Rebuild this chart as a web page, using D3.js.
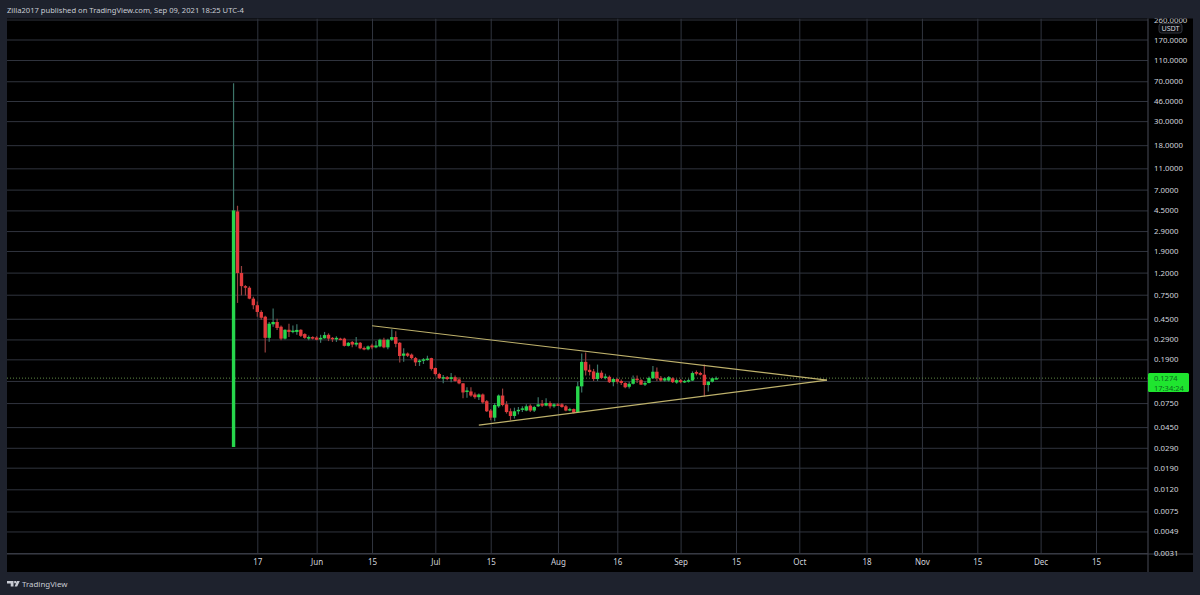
<!DOCTYPE html>
<html>
<head>
<meta charset="utf-8">
<style>
  html, body { margin: 0; padding: 0; background: #1e222d; }
  svg { display: block; }
  text { font-family: "Noto Sans", "DejaVu Sans", sans-serif; }
  .axis path, .axis line { display: none; }
  .grid path { display: none; }
  .grid line { stroke: #30343e; stroke-width: 1; }
</style>
</head>
<body>
<div id="page"></div>
<script src="https://cdn.jsdelivr.net/npm/d3@7"></script>
<script>
(function() {

  "use strict";

  var firstDay = "2021-05-11";

  var opens = [
    .0295, 4.4, 1.19, .90, .87, .69, .60, .52, .47, .30,
    .40, .42, .38, .295, .356, .34, .34, .356, .325, .295,
    .305, .302, .29, .297, .32, .30, .29, .295, .295, .253,
    .275, .26, .27, .242, .235, .255, .245, .25, .288, .245,
    .288, .305, .27, .205, .215, .21, .195, .18, .185, .187,
    .195, .158, .139, .127, .13, .125, .13, .124, .114, .095,
    .096, .09, .085, .09, .078, .064, .055, .07, .088, .073,
    .063, .057, .063, .065, .064, .071, .064, .07, .074, .071,
    .075, .07, .073, .073, .07, .065, .066, .062, .107, .18,
    .152, .147, .125, .143, .128, .131, .117, .125, .12, .115,
    .106, .113, .126, .122, .111, .115, .127, .146, .128, .121,
    .121, .127, .116, .122, .118, .118, .121, .145, .142, .137,
    .11, .118, .127
  ];

  var closes = [
    4.5, 1.19, .90, .87, .69, .60, .52, .46, .30, .405,
    .42, .37, .295, .356, .34, .35, .355, .313, .30, .305,
    .295, .288, .30, .318, .295, .295, .30, .29, .253, .27,
    .26, .27, .24, .235, .25, .245, .255, .288, .245, .288,
    .305, .264, .204, .215, .205, .195, .178, .185, .19, .193,
    .155, .139, .127, .13, .125, .13, .12, .114, .094, .098,
    .088, .085, .09, .076, .063, .055, .072, .088, .072, .062,
    .057, .063, .065, .067, .07, .064, .069, .073, .071, .075,
    .07, .073, .072, .069, .064, .066, .061, .107, .18, .15,
    .145, .125, .143, .128, .132, .117, .125, .118, .115, .105,
    .113, .125, .122, .111, .115, .128, .146, .127, .121, .127,
    .13, .117, .122, .117, .12, .122, .142, .14, .137, .11,
    .118, .127, .1274
  ];

  var highs = [
    67, 4.96, 1.38, .92, .90, .72, .65, .54, .48, .42,
    .56, .45, .39, .36, .405, .39, .40, .36, .33, .315,
    .31, .31, .32, .34, .33, .305, .31, .30, .30, .275,
    .28, .305, .275, .25, .255, .265, .28, .295, .30, .295,
    .36, .345, .275, .24, .22, .215, .20, .19, .195, .205,
    .197, .16, .143, .136, .133, .142, .135, .13, .115, .105,
    .105, .094, .092, .092, .08, .066, .075, .09, .102, .078,
    .067, .068, .069, .07, .073, .073, .071, .085, .08, .083,
    .078, .075, .075, .075, .072, .068, .067, .118, .215, .22,
    .17, .155, .17, .15, .14, .135, .128, .127, .124, .117,
    .118, .135, .135, .125, .12, .132, .165, .16, .133, .13,
    .133, .13, .126, .125, .123, .126, .147, .15, .146, .17,
    .12, .129, .132
  ];

  var lows = [
    .0295, .63, .74, .74, .68, .55, .47, .44, .22, .276,
    .38, .355, .285, .29, .305, .33, .32, .305, .295, .285,
    .29, .285, .27, .295, .28, .275, .275, .285, .25, .25,
    .245, .25, .235, .23, .23, .235, .24, .245, .24, .235,
    .28, .245, .178, .18, .20, .19, .165, .165, .172, .185,
    .15, .135, .125, .114, .122, .117, .118, .112, .083, .084,
    .086, .082, .08, .074, .062, .052, .051, .068, .07, .06,
    .052, .054, .059, .062, .063, .062, .062, .069, .069, .07,
    .067, .068, .071, .068, .063, .063, .06, .061, .094, .135,
    .135, .12, .12, .125, .124, .115, .107, .113, .11, .103,
    .102, .111, .115, .11, .108, .114, .125, .12, .118, .118,
    .118, .115, .113, .114, .115, .116, .12, .135, .135, .086,
    .096, .116, .125
  ];

  var priceTicks = [260, 170, 110, 70, 46, 30, 18, 11, 7, 4.5, 2.9, 1.9, 1.2, .75, .45, .29, .19, .12, .075, .045, .029, .019, .012, .0075, .0049, .0031];
  var hiddenPriceTick = .12;

  var dateTicks = ["2021-05-17", "2021-06-01", "2021-06-15", "2021-07-01", "2021-07-15", "2021-08-01", "2021-08-16", "2021-09-01", "2021-09-15", "2021-10-01", "2021-10-18", "2021-11-01", "2021-11-15", "2021-12-01", "2021-12-15"];
  var dateLabels = ["17", "Jun", "15", "Jul", "15", "Aug", "16", "Sep", "15", "Oct", "18", "Nov", "15", "Dec", "15"];

  var upperTrend = [["2021-06-15", .388], ["2021-10-08", .122]];
  var lowerTrend = [["2021-07-12", .047], ["2021-10-08", .122]];

  var lastPrice = .1274;
  var countdown = "17:34:24";
  var quote = "USDT";
  var header = "Zilla2017 published on TradingView.com, Sep 09, 2021 18:25 UTC-4";
  var brand = "TradingView";

  /* * * * * * * * * * * * * * * * * * * */

  var left = 7, right = 1193, top = 18.5, bottom = 572,
    axisX = 1148, axisY = 554;

  var parse = d3.utcParse( "%Y-%m-%d" );

  var x = d3.scaleUtc()
    .domain( [ parse( dateTicks[0] ), parse( dateTicks[ dateTicks.length - 1 ] ) ] )
    .range( [ 257.3, 1096 ] );

  var y = d3.scaleLog()
    .domain( [ 170, .0031 ] )
    .range( [ 39.5, 553 ] );

  var svg = d3.select( "#page" ).append( "svg" )
    .attr( "width", 1200 )
    .attr( "height", 595 );

  var defs = svg.append( "defs" );

  defs.append( "clipPath" ).attr( "id", "frame" ).append( "rect" )
    .attr( "x", left ).attr( "y", top )
    .attr( "width", right - left ).attr( "height", bottom - top );

  defs.append( "clipPath" ).attr( "id", "plot" ).append( "rect" )
    .attr( "x", left ).attr( "y", top )
    .attr( "width", axisX - left ).attr( "height", axisY - top );

  svg.append( "rect" )
    .attr( "width", 1200 ).attr( "height", 595 )
    .attr( "fill", "#1e222d" );

  svg.append( "rect" )
    .attr( "x", left ).attr( "y", top )
    .attr( "width", right - left ).attr( "height", bottom - top )
    .attr( "fill", "#000" );

  /* * * * * * * * * * * * * * * * * * * */

  var dates = dateTicks.map( parse );

  var plot = svg.append( "g" ).attr( "clip-path", "url(#plot)" );

  plot.append( "g" )
    .attr( "class", "grid" )
    .attr( "transform", "translate(0," + axisY + ")" )
    .call( d3.axisBottom( x ).tickValues( dates ).tickSize( -( axisY - top ) ).tickFormat( "" ) );

  plot.append( "g" )
    .attr( "class", "grid" )
    .attr( "transform", "translate(" + axisX + ",0)" )
    .call( d3.axisLeft( y ).tickValues( priceTicks ).tickSize( axisX - left ).tickFormat( "" ) );

  /* last price dotted line */
  plot.append( "line" )
    .attr( "x1", left ).attr( "x2", axisX )
    .attr( "y1", y( lastPrice ) ).attr( "y2", y( lastPrice ) )
    .attr( "stroke", "#5f8a45" )
    .attr( "stroke-width", 1 )
    .attr( "stroke-dasharray", "1 2" );

  /* * * * * * * * * * * * * * * * * * * */

  var candles = opens.map( function( o, i ) {
    return {
      date: d3.utcDay.offset( parse( firstDay ), i ),
      open: o,
      close: closes[i],
      high: highs[i],
      low: lows[i]
    };
  });

  function isUp( d ) {
    return d.close >= d.open;
  }

  var candle = plot.append( "g" ).selectAll( "g" )
    .data( candles )
    .join( "g" );

  candle.append( "line" )
    .attr( "x1", function( d ) { return x( d.date ); } )
    .attr( "x2", function( d ) { return x( d.date ); } )
    .attr( "y1", function( d ) { return y( d.high ); } )
    .attr( "y2", function( d ) { return y( d.low ); } )
    .attr( "stroke", function( d ) { return isUp( d ) ? "#3c7468" : "#96403f"; } )
    .attr( "stroke-width", 1.2 );

  candle.append( "rect" )
    .attr( "x", function( d ) { return x( d.date ) - 1.7; } )
    .attr( "width", 3.4 )
    .attr( "y", function( d ) { return y( Math.max( d.open, d.close ) ); } )
    .attr( "height", function( d ) {
      return Math.max( 1.5, Math.abs( y( d.open ) - y( d.close ) ) );
    })
    .attr( "fill", function( d ) { return isUp( d ) ? "#27d64c" : "#e23a3c"; } );

  /* trend lines */
  [ upperTrend, lowerTrend ].forEach( function( trend ) {
    plot.append( "line" )
      .attr( "x1", x( parse( trend[0][0] ) ) )
      .attr( "y1", y( trend[0][1] ) )
      .attr( "x2", x( parse( trend[1][0] ) ) )
      .attr( "y2", y( trend[1][1] ) )
      .attr( "stroke", "#bfb26c" )
      .attr( "stroke-width", 1.2 );
  });

  /* * * * * * * * * * * * * * * * * * * */

  /* axis borders */
  svg.append( "line" )
    .attr( "x1", axisX ).attr( "x2", axisX )
    .attr( "y1", top ).attr( "y2", bottom )
    .attr( "stroke", "#3c3f48" ).attr( "stroke-width", 1.2 );

  svg.append( "line" )
    .attr( "x1", left ).attr( "x2", right )
    .attr( "y1", axisY ).attr( "y2", axisY )
    .attr( "stroke", "#3c3f48" ).attr( "stroke-width", 1.2 );

  var frame = svg.append( "g" ).attr( "clip-path", "url(#frame)" );

  var priceAxis = frame.append( "g" )
    .attr( "class", "axis" )
    .attr( "transform", "translate(" + axisX + ",0)" )
    .call( d3.axisRight( y )
      .tickValues( priceTicks.filter( function( t ) { return t !== hiddenPriceTick; } ) )
      .tickSize( 0 )
      .tickPadding( 6 )
      .tickFormat( d3.format( ".4f" ) ) );

  priceAxis.selectAll( "text" )
    .attr( "fill", "#d1d4dc" )
    .style( "font-size", "7.8px" );

  var timeAxis = frame.append( "g" )
    .attr( "class", "axis" )
    .attr( "transform", "translate(0," + axisY + ")" )
    .call( d3.axisBottom( x )
      .tickValues( dates )
      .tickSize( 0 )
      .tickPadding( 5 )
      .tickFormat( function( d, i ) { return dateLabels[i]; } ) );

  timeAxis.selectAll( "text" )
    .attr( "fill", "#d1d4dc" )
    .style( "font-size", "8px" );

  /* currency badge */
  svg.append( "rect" )
    .attr( "x", 1159 ).attr( "y", 23.5 )
    .attr( "width", 23 ).attr( "height", 9.5 )
    .attr( "rx", 2.5 )
    .attr( "fill", "#0c0d11" )
    .attr( "stroke", "#33363f" );

  svg.append( "text" )
    .attr( "x", 1170.5 ).attr( "y", 31 )
    .attr( "text-anchor", "middle" )
    .attr( "fill", "#d1d4dc" )
    .style( "font-size", "7.2px" )
    .text( quote );

  /* last price tag */
  svg.append( "rect" )
    .attr( "x", axisX ).attr( "y", 373 )
    .attr( "width", 41 ).attr( "height", 19 )
    .attr( "rx", 1.5 )
    .attr( "fill", "#1fe52f" );

  svg.append( "text" )
    .attr( "x", 1154 ).attr( "y", 381 )
    .attr( "fill", "#0c6a1e" )
    .style( "font-size", "7.5px" )
    .text( d3.format( ".4f" )( lastPrice ) );

  svg.append( "text" )
    .attr( "x", 1154 ).attr( "y", 390.5 )
    .attr( "fill", "#0c6a1e" )
    .style( "font-size", "7.5px" )
    .text( countdown );

  /* * * * * * * * * * * * * * * * * * * */

  svg.append( "text" )
    .attr( "x", 7 ).attr( "y", 12.5 )
    .attr( "fill", "#c8cbd3" )
    .style( "font-size", "7.6px" )
    .text( header );

  /* logo */
  svg.append( "path" )
    .attr( "d", "M7 581h6.5v5.5h-2.8v-3H7z M14.2 581h2v2.2h-2z M17 581h2.8l-2.6 5.5h-2.6z" )
    .attr( "fill", "#c8cbd3" );

  svg.append( "text" )
    .attr( "x", 22 ).attr( "y", 586.5 )
    .attr( "fill", "#c8cbd3" )
    .style( "font-size", "7.9px" )
    .text( brand );

})();
</script>
</body>
</html>
